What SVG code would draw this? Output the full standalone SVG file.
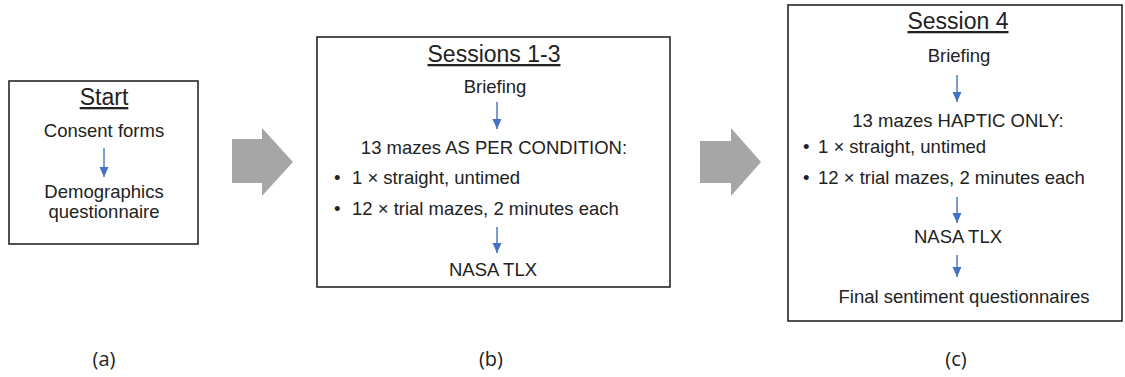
<svg xmlns="http://www.w3.org/2000/svg" width="1125" height="377" viewBox="0 0 1125 377">
<defs>
<style>
.box{fill:#fff;stroke:#262626;stroke-width:1.6}
.t{font-family:"Liberation Sans",Arial,sans-serif;font-size:18.5px;fill:#222;text-anchor:middle}
.tl{font-family:"Liberation Sans",Arial,sans-serif;font-size:18.5px;fill:#222}
.title{font-family:"Liberation Sans",Arial,sans-serif;font-size:23px;fill:#222;text-anchor:middle;text-decoration:underline}
.lab{font-family:"Open Sans","Liberation Sans",sans-serif;font-size:20px;fill:#222;text-anchor:middle}
.ca{stroke:#4472C4;stroke-width:1.4;fill:none;marker-end:url(#ah)}
.big{fill:#A6A6A6}
</style>
<marker id="ah" markerUnits="userSpaceOnUse" markerWidth="10" markerHeight="10" viewBox="0 0 10 10" refX="10" refY="5" orient="auto">
<path d="M0,0.5 L10,5 L0,9.5 Z" fill="#4472C4"/>
</marker>
</defs>
<rect width="1125" height="377" fill="#fff"/>

<g id="nodeA">
<rect class="box" x="9" y="81" width="189" height="163"/>
<text class="title" x="104" y="105">Start</text>
<text class="t" x="104" y="137">Consent forms</text>
<text class="t" x="104" y="198">Demographics</text>
<text class="t" x="104" y="218">questionnaire</text>
</g>

<g id="nodeB">
<rect class="box" x="317" y="37" width="353" height="250"/>
<text class="title" x="494" y="62">Sessions 1-3</text>
<text class="t" x="495" y="93">Briefing</text>
<text class="t" x="494" y="154">13 mazes AS PER CONDITION:</text>
<text class="tl" x="334" y="184">•</text>
<text class="tl" x="352" y="184">1 × straight, untimed</text>
<text class="tl" x="334" y="215">•</text>
<text class="tl" x="352" y="215">12 × trial mazes, 2 minutes each</text>
<text class="t" x="493" y="276">NASA TLX</text>
</g>

<g id="nodeC">
<rect class="box" x="788" y="5" width="334" height="316"/>
<text class="title" x="958" y="29">Session 4</text>
<text class="t" x="959" y="62">Briefing</text>
<text class="t" x="958" y="127">13 mazes HAPTIC ONLY:</text>
<text class="tl" x="803" y="153">•</text>
<text class="tl" x="818" y="153">1 × straight, untimed</text>
<text class="tl" x="803" y="184">•</text>
<text class="tl" x="818" y="184">12 × trial mazes, 2 minutes each</text>
<text class="t" x="958" y="243">NASA TLX</text>
<text class="t" x="964" y="303">Final sentiment questionnaires</text>
</g>

<g id="connectors">
<line class="ca" x1="104" y1="148" x2="104" y2="177"/>
<line class="ca" x1="497" y1="102" x2="497" y2="129"/>
<line class="ca" x1="497" y1="227" x2="497" y2="253"/>
<line class="ca" x1="957" y1="75" x2="957" y2="102"/>
<line class="ca" x1="957" y1="197" x2="957" y2="223"/>
<line class="ca" x1="957" y1="255" x2="957" y2="277"/>
<polygon class="big" points="232,139 262,139 262,128 293,162 262,196 262,183 232,183"/>
<polygon class="big" points="700,141 731,141 731,128 761,162 731,196 731,183 700,183"/>
</g>

<g id="labels">
<text class="lab" x="104" y="366">(a)</text>
<text class="lab" x="491" y="366">(b)</text>
<text class="lab" x="956" y="366">(c)</text>
</g>
</svg>
